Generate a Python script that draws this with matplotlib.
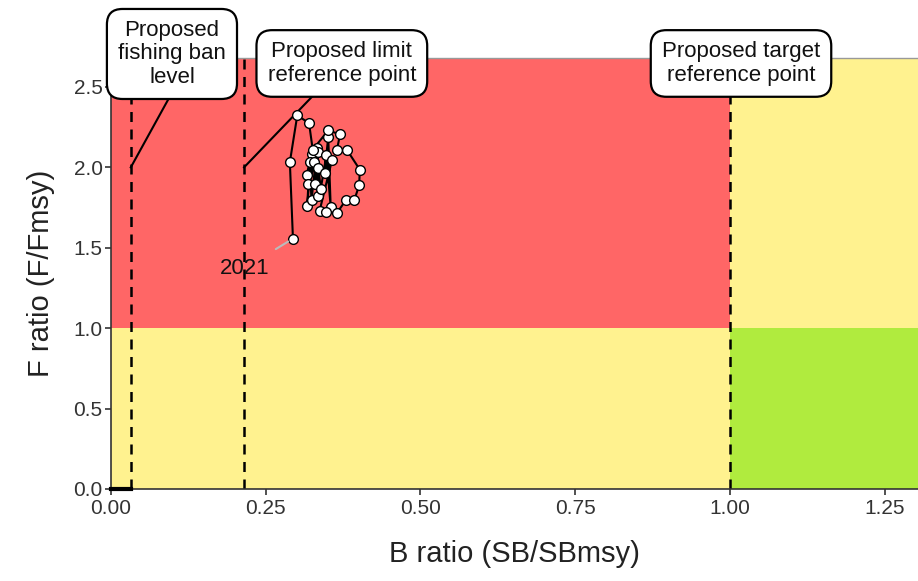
import matplotlib
matplotlib.use("Agg")
import matplotlib.pyplot as plt

plt.rcParams['font.family'] = ['Liberation Sans', 'DejaVu Sans']

# Stock trajectory: biomass ratio and fishing mortality ratio by year
years = list(range(1988, 2022))
b_ratio = [0.316, 0.324, 0.317, 0.321, 0.324, 0.333, 0.335, 0.328, 0.319, 0.335,
           0.330, 0.335, 0.339, 0.348, 0.355, 0.351, 0.345, 0.357, 0.337, 0.348,
           0.365, 0.380, 0.393, 0.401, 0.402, 0.381, 0.365, 0.370, 0.351, 0.326,
           0.320, 0.301, 0.289, 0.294]
f_ratio = [1.950, 2.081, 1.758, 2.033, 1.795, 2.122, 1.820, 2.033, 1.894, 2.095,
           1.894, 1.998, 1.868, 2.075, 1.753, 2.188, 1.965, 2.043, 1.729, 1.722,
           1.716, 1.799, 1.795, 1.888, 1.986, 2.110, 2.106, 2.205, 2.230, 2.110,
           2.275, 2.323, 2.033, 1.557]

# Reference points (B ratio)
ban_level = 0.032
limit_ref = 0.215
target_ref = 1.0
ref_labels = ["Proposed\nfishing ban\nlevel", "Proposed limit\nreference point",
              "Proposed target\nreference point"]

X_MAX = 1.304
Y_MAX = 2.68

fig = plt.figure(figsize=(9.18, 5.81), dpi=100)
ax = fig.add_axes([111 / 918, 1 - 489 / 581, 1 - 111 / 918, (489 - 58) / 581])

red = '#FF6666'
yellow = '#FFF28F'
green = '#B0EB3E'

# Kobe-style background quadrants
ax.fill_between([0, target_ref], 1, Y_MAX, color=red, lw=0, zorder=0)
ax.fill_between([0, target_ref], 0, 1, color=yellow, lw=0, zorder=0)
ax.fill_between([target_ref, X_MAX], 1, Y_MAX, color=yellow, lw=0, zorder=0)
ax.fill_between([target_ref, X_MAX], 0, 1, color=green, lw=0, zorder=0)

# reference point lines
for xv in (ban_level, limit_ref, target_ref):
    ax.plot([xv, xv], [0, Y_MAX], color='black', ls=(0, (4, 3)), lw=1.8, zorder=2)
ax.plot([0, ban_level], [0, 0], color='black', lw=3, zorder=3, clip_on=False)

# label connectors
ax.plot([ban_level, 0.095], [2.0, 2.44], color='black', lw=1.5, zorder=2, clip_on=False)
ax.plot([limit_ref, 0.325], [2.0, 2.44], color='black', lw=1.5, zorder=2, clip_on=False)

box = dict(boxstyle='round,pad=0.5,rounding_size=0.7', fc='white', ec='black', lw=1.6)
label_pos = [(0.0985, 2.705), (0.373, 2.646), (1.018, 2.646)]
for txt, (lx, ly) in zip(ref_labels, label_pos):
    ax.text(lx, ly, txt, ha='center', va='center', fontsize=16, color='#111111',
            bbox=box, zorder=6, clip_on=False, linespacing=1.15)

# trajectory
ax.plot(b_ratio, f_ratio, color='black', lw=1.5, zorder=4)
ax.plot(b_ratio, f_ratio, ls='none', marker='o', ms=7, mfc='white', mec='black',
        mew=1.0, zorder=5)

ax.annotate(str(years[-1]), xy=(b_ratio[-1], f_ratio[-1]), xytext=(0.216, 1.373),
            ha='center', va='center', fontsize=16, color='#111111',
            arrowprops=dict(arrowstyle='-', color='#BBBBBB', lw=1.5,
                            shrinkA=8, shrinkB=4), zorder=5)

ax.set_xlim(0, X_MAX)
ax.set_ylim(0, Y_MAX)
ax.set_xticks([0, 0.25, 0.5, 0.75, 1.0, 1.25])
ax.set_xticklabels(['0.00', '0.25', '0.50', '0.75', '1.00', '1.25'])
ax.set_yticks([0, 0.5, 1.0, 1.5, 2.0, 2.5])
ax.set_yticklabels(['0.0', '0.5', '1.0', '1.5', '2.0', '2.5'])
ax.tick_params(labelsize=15, labelcolor='#333333', color='#333333', length=4,
               width=1.2)
ax.tick_params(axis='x', pad=3)
ax.tick_params(axis='y', pad=2)

ax.spines['right'].set_visible(False)
ax.spines['top'].set_color('#999999')
ax.spines['top'].set_linewidth(1.0)
for side in ('left', 'bottom'):
    ax.spines[side].set_color('#333333')
    ax.spines[side].set_linewidth(1.2)

ax.set_xlabel('B ratio (SB/SBmsy)', fontsize=21, color='#222222', labelpad=16)
ax.set_ylabel('F ratio (F/Fmsy)', fontsize=21, color='#222222', labelpad=13)

fig.savefig('out.png', dpi=100)
